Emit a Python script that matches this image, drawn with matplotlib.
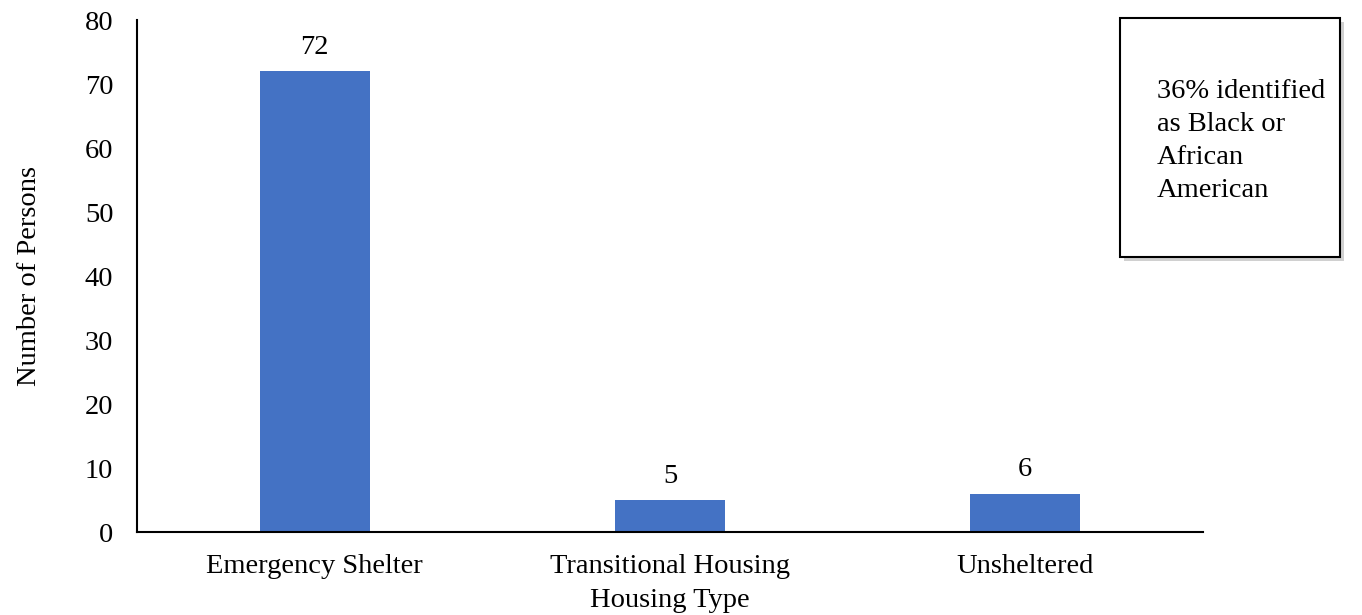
import matplotlib
matplotlib.use("Agg")
import matplotlib.pyplot as plt
from matplotlib.patches import Rectangle

categories = ["Emergency Shelter", "Transitional Housing", "Unsheltered"]
persons = [72, 5, 6]
y_ticks = [0, 10, 20, 30, 40, 50, 60, 70, 80]
note_text = "36% identified\nas Black or\nAfrican\nAmerican"

plt.rcParams['font.family'] = ['Liberation Serif', 'DejaVu Serif']
FS = 20.5

W, H = 1362, 615
fig = plt.figure(figsize=(W / 100, H / 100), dpi=100)
ax = fig.add_axes([137 / W, 1 - 532 / H, (1203 - 137) / W, (532 - 20) / H])

x = list(range(len(categories)))
bars = ax.bar(x, persons, width=0.31, color="#4472C4")
ax.set_xlim(-0.5, len(categories) - 0.5)
ax.set_ylim(0, 80)
ax.set_yticks(y_ticks)
ax.set_xticks(x)
ax.set_xticklabels(categories)
ax.tick_params(axis="both", length=0, labelsize=FS)
ax.tick_params(axis="y", pad=17)
ax.tick_params(axis="x", pad=16)
for s in ["top", "right"]:
    ax.spines[s].set_visible(False)
for s in ["left", "bottom"]:
    ax.spines[s].set_linewidth(1.5)
    ax.spines[s].set_color("black")

for xi, v in zip(x, persons):
    ax.annotate(str(v), (xi, v), xytext=(0, 8), textcoords="offset points",
                ha="center", va="bottom", fontsize=FS)

ax.set_ylabel("Number of Persons", fontsize=FS, labelpad=31)
ax.set_xlabel("Housing Type", fontsize=FS, labelpad=6)

# Note box with shadow
bx0, by0, bx1, by1 = 1120, 18, 1340, 257
shadow = Rectangle(((bx0 + 4) / W, 1 - (by1 + 4) / H), (bx1 - bx0) / W, (by1 - by0) / H,
                   transform=fig.transFigure, facecolor="#d0d0d0", edgecolor="none", zorder=1)
box = Rectangle((bx0 / W, 1 - by1 / H), (bx1 - bx0) / W, (by1 - by0) / H,
                transform=fig.transFigure, facecolor="white", edgecolor="black", lw=1.5, zorder=2)
fig.patches.extend([shadow, box])
fig.text(1157 / W, 1 - 79 / H, note_text, fontsize=FS, ha="left", va="top",
         linespacing=1.42, zorder=3)

fig.savefig("out.png", dpi=100)
